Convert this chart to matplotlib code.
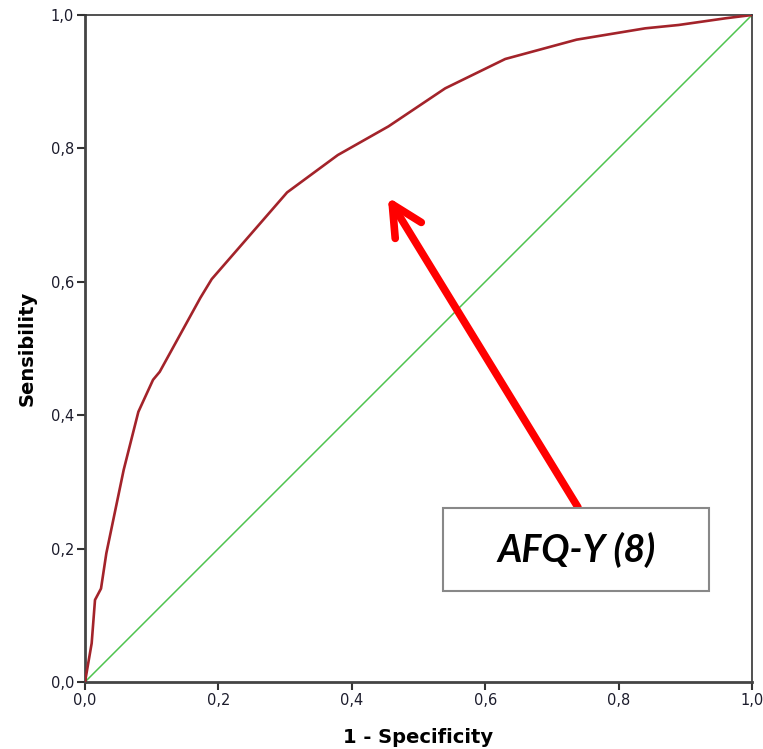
import numpy as np
import matplotlib.pyplot as plt
from matplotlib.ticker import FuncFormatter
from matplotlib.patches import Rectangle

# ROC curve
fpr = [0.0, 0.01, 0.015, 0.024, 0.032, 0.058, 0.08, 0.102, 0.112, 0.173, 0.19,
       0.303, 0.379, 0.455, 0.54, 0.63, 0.737, 0.84, 0.89, 0.96, 1.0]
tpr = [0.0, 0.058, 0.123, 0.14, 0.193, 0.318, 0.405, 0.453, 0.465, 0.576, 0.604,
       0.734, 0.79, 0.833, 0.89, 0.934, 0.963, 0.98, 0.985, 0.995, 1.0]
ref = [0.0, 1.0]
ticks = [0.0, 0.2, 0.4, 0.6, 0.8, 1.0]
label_text = 'AFQ-Y (8)'

fig = plt.figure(figsize=(7.63, 7.49), dpi=100)
ax = fig.add_axes([0.1114, 0.0895, 0.8742, 0.8905])

ax.plot(ref, ref, color='#4ec44e', lw=1.1, zorder=2)
ax.plot(fpr, tpr, color='#a3232a', lw=1.9, zorder=3)

ax.set_xlim(0, 1)
ax.set_ylim(0, 1)
ax.set_xticks(ticks)
ax.set_yticks(ticks)
fmt = FuncFormatter(lambda v, p: f'{v:.1f}'.replace('.', ','))
ax.xaxis.set_major_formatter(fmt)
ax.yaxis.set_major_formatter(fmt)
ax.tick_params(direction='out', length=6, width=1.5, color='#333333',
               labelsize=10.5, labelcolor='#1c1c2c', pad=2)

for s in ['left', 'bottom']:
    ax.spines[s].set_linewidth(2.0)
    ax.spines[s].set_color('#444444')
for s in ['top', 'right']:
    ax.spines[s].set_linewidth(1.2)
    ax.spines[s].set_color('#333333')

ax.set_xlabel('1 - Specificity', fontsize=14, fontweight='bold', labelpad=14)
ax.set_ylabel('Sensibility', fontsize=14, fontweight='bold', labelpad=10)

# arrow pointing at the curve
ax.annotate('', xy=(0.454, 0.727), xytext=(0.739, 0.262),
            arrowprops=dict(arrowstyle='->,head_length=1.1,head_width=0.55',
                            mutation_scale=20, color='#ff0000', lw=5.5,
                            capstyle='round', joinstyle='round',
                            shrinkA=0, shrinkB=0), zorder=5)

# label box
ax.add_patch(Rectangle((0.537, 0.136), 0.3985, 0.125, fc='white',
                       ec='#888888', lw=1.5, zorder=6))
ax.text(0.737, 0.198, label_text, fontsize=27, fontweight='bold',
        fontstyle='italic', family=['Lato', 'DejaVu Sans'],
        ha='center', va='center', zorder=7)

fig.savefig('out.png', dpi=100)
